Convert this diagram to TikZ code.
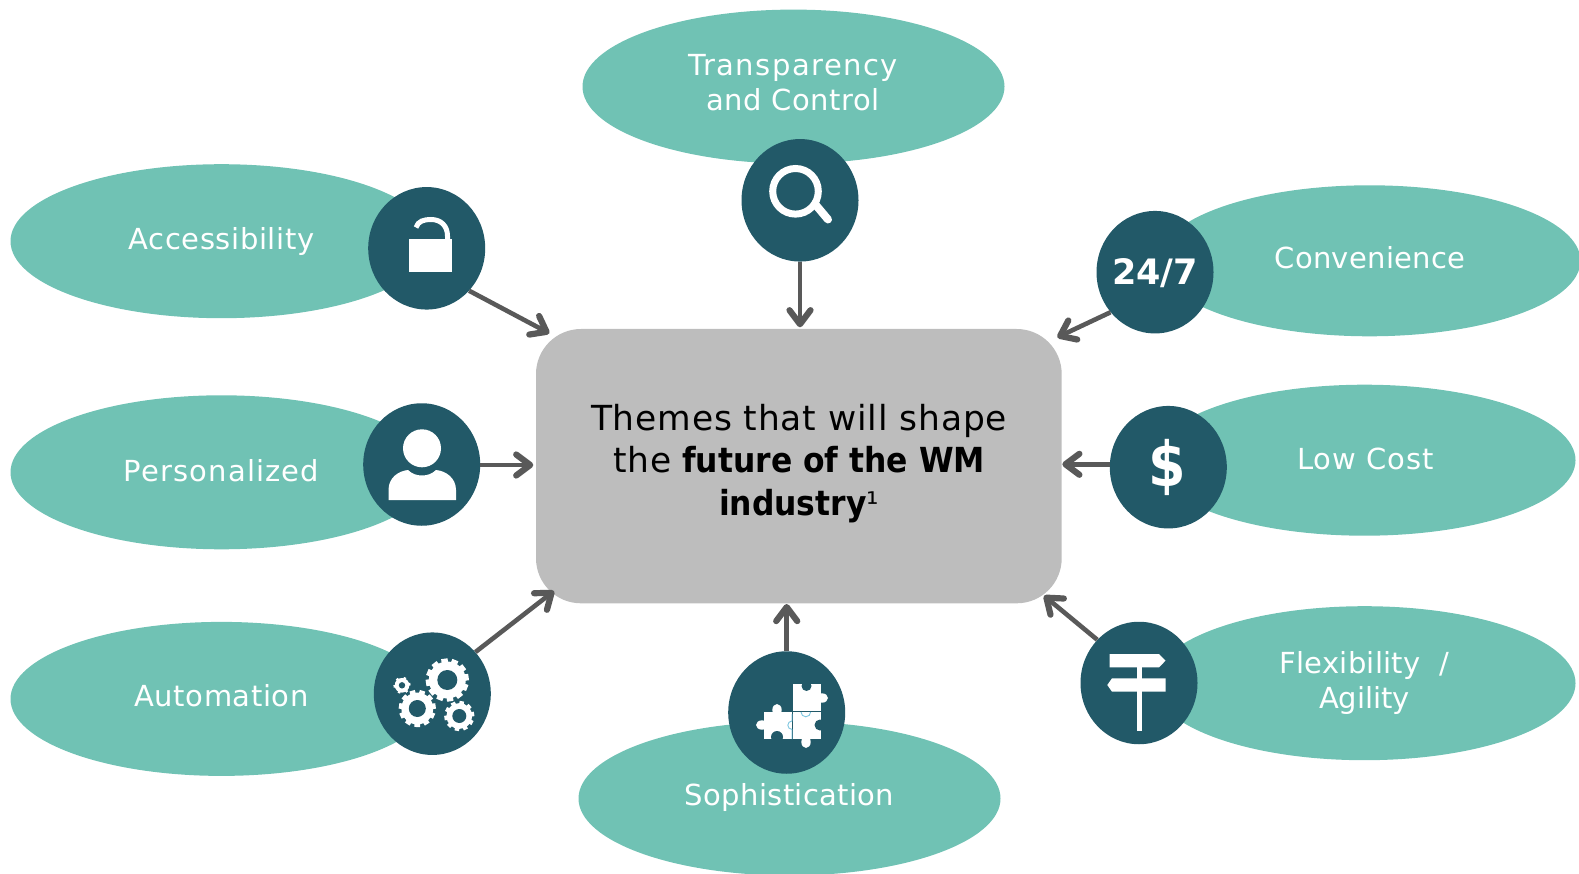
\documentclass[tikz,border=0pt]{standalone}
\usepackage{fontspec}
\setmainfont{DejaVu Sans}
\usetikzlibrary{arrows.meta,shapes.geometric,calc}
\definecolor{teal}{HTML}{70C2B4}
\definecolor{deep}{HTML}{225968}
\definecolor{boxgray}{HTML}{BDBDBD}
\definecolor{arrowgray}{HTML}{595959}
\definecolor{seam}{HTML}{7CC6E0}
\newcommand\lsp[1]{\addfontfeature{LetterSpace=#1}}
\tikzset{
  theme/.style={ellipse,fill=teal,minimum width=422pt,minimum height=154pt,inner sep=0pt},
  badge/.style={ellipse,fill=deep,minimum width=117pt,minimum height=122.5pt,inner sep=0pt},
  lab/.style={text=white,align=center,inner sep=0pt,font=\fontsize{29}{34.5}\selectfont},
  link/.style={draw=arrowgray,line width=4.6pt,-{Straight Barb[round,length=14pt,width=21pt,line width=6.2pt]}},
  ico/.style={fill=white,draw=none},
}
\newcommand\gearicon[5]{%
  \foreach \a in {1,...,#5}{\draw[white,line width=#3*0.3pt] (#1,#2) -- ++({\a*360/#5+8}:{#3*1pt});}%
  \fill[white] (#1,#2) circle[radius=#3*0.86pt];
  \fill[deep] (#1,#2) circle[radius=#4*1pt];
}
\begin{document}
\begin{tikzpicture}[x=1pt,y=-1pt]
\useasboundingbox (0,0) rectangle (1579,874);
% teal ellipses
\node[theme] (eT) at (793.5,86.6) {};
\node[theme] (eA) at (221.5,241.2) {};
\node[theme] (eP) at (221.5,472.3) {};
\node[theme] (eU) at (221.5,698.9) {};
\node[theme] (eS) at (789.5,798.5) {};
\node[theme] (eF) at (1364.5,683.2) {};
\node[theme,minimum height=151pt] (eL) at (1364.5,460.2) {};
\node[theme,minimum height=151pt] (eC) at (1369.5,260.8) {};
% central box
\node[fill=boxgray,rounded corners=45pt,minimum width=525.7pt,minimum height=274.3pt,inner sep=0pt] (hub) at (798.85,466.15) {};
\node[align=center,inner sep=0pt,font=\fontsize{34.5}{42.4}\selectfont] (hubtext) at (799,463.5)
  {{\lsp{2.4}Themes that will shape}\\{\lsp{2.4}the} {\bfseries\addfontfeature{FakeStretch=0.91}future of the WM}\\{\bfseries\addfontfeature{FakeStretch=0.91}industry}{\fontsize{31}{31}\selectfont\raisebox{1pt}{¹}}};
% badges
\node[badge] (bT) at (800,200.3) {};
\node[badge] (bA) at (426.7,248.3) {};
\node[badge] (bP) at (421.7,464.5) {};
\node[badge] (bU) at (432.3,693.7) {};
\node[badge] (bS) at (786.7,712.5) {};
\node[badge] (bF) at (1139,683) {};
\node[badge] (bL) at (1168.3,467.2) {};
\node[badge] (bC) at (1155,272.2) {};
% arrow ends
\coordinate (tA) at (549.3,333.3);
\coordinate (tT) at (800,327.3);
\coordinate (tC) at (1057.3,337.3);
\coordinate (tL) at (1062.3,464.3);
\coordinate (tF) at (1044,595.7);
\coordinate (tS) at (786.7,604);
\coordinate (tU) at (554,591);
\coordinate (tP) at (533.3,465);
\draw[link] (bA.-45.5) -- (tA);
\draw[link] (bT.south) -- (tT);
\draw[link] (bC.222) -- (tC);
\draw[link] (bL.west |- tL) -- (tL);
\draw[link] (bF.134) -- (tF);
\draw[link] (bS.north) -- (tS);
\draw[link] (bU.44) -- (tU);
\draw[link] (bP.east |- tP) -- (tP);
% labels
\node[lab] (lT) at (793,82.5) {{\lsp{5}Transparency}\\{\lsp{2}and Control}};
\node[lab] (lA) at (221.5,241.5) {\lsp{2}Accessibility};
\node[lab] (lP) at (221.5,470.5) {\lsp{4}Personalized};
\node[lab] (lU) at (221.5,695.5) {\lsp{2}Automation};
\node[lab] (lS) at (789.5,797) {\lsp{1.2}Sophistication};
\node[lab] (lF) at (1364.5,683) {{\lsp{1}Flexibility~~/}\\Agility};
\node[lab] (lL) at (1365.5,458.5) {\lsp{3.5}Low Cost};
\node[lab] (lC) at (1370,257.5) {\lsp{1}Convenience};
% 24/7 and dollar
\node[text=white,inner sep=0pt,font=\fontsize{35}{40}\selectfont\bfseries] (i247) at (1155,273.5) {24/7};
\node[text=white,inner sep=0pt,yscale=1.15,font=\fontsize{54}{60}\selectfont\bfseries] (idollar) at (1167.5,467) {\$};
% search icon
\draw[white,line width=7pt] (795.5,191.3) circle[radius=22.8pt];
\draw[white,line width=8pt,line cap=round] (815,204) -- (828,219.5);
% lock icon
\fill[ico] (408.5,239) rectangle (452,272);
\draw[white,line width=5pt] (416,227.5) .. controls (418,221) and (424,219.5) .. (431,219.5) .. controls (441,219.5) and (447.5,226) .. (447.5,236) -- (447.5,241);
% person icon
\fill[ico] (422,448.3) circle[radius=19pt];
\fill[ico] (388.5,500) -- (388.5,490) .. controls (388.5,478) and (398,471) .. (408,470) .. controls (412,474) and (417,475.5) .. (422,475.5) .. controls (427,475.5) and (432,474) .. (436,470) .. controls (446,471) and (456,478) .. (456,490) -- (456,500) -- cycle;
% gear icons
\gearicon{447.3}{680}{21.5}{10}{12}
\gearicon{417.3}{708.5}{18.5}{8.5}{11}
\gearicon{459.3}{716}{15}{7}{10}
\gearicon{402}{685.3}{8.5}{3.2}{6}
% puzzle icon
\fill[ico] (792.5,684) rectangle (821,711);
\fill[deep] (806.5,686) circle[radius=5pt];
\fill[ico] (822,698) ellipse[x radius=6pt,y radius=4.7pt];
\fill[ico] (763.5,712) rectangle (792,739);
\fill[ico] (762,725) ellipse[x radius=6pt,y radius=4.7pt];
\fill[ico] (777,710) ellipse[x radius=4.7pt,y radius=6pt];
\fill[deep] (777,737) circle[radius=6pt];
\fill[ico] (792.5,712) rectangle (821,739);
\fill[ico] (806,742) ellipse[x radius=4.7pt,y radius=6pt];
\fill[deep] (820,725) circle[radius=5.5pt];
\draw[seam,line width=0.9pt] (792,714) -- (792,721) arc[start angle=90,end angle=270,radius=4.2pt] -- (792,739);
\draw[seam,line width=0.9pt] (801,712) arc[start angle=180,end angle=360,radius=4.8pt];
% signpost icon
\fill[ico] (1109.5,654) -- (1159,654) -- (1165.5,660.7) -- (1159,667.3) -- (1109.5,667.3) -- cycle;
\fill[ico] (1112,678.3) -- (1165.7,678.3) -- (1165.7,691.7) -- (1112,691.7) -- (1107.3,685) -- cycle;
\fill[ico] (1136.7,667) rectangle (1141.7,731);
\end{tikzpicture}
\end{document}
